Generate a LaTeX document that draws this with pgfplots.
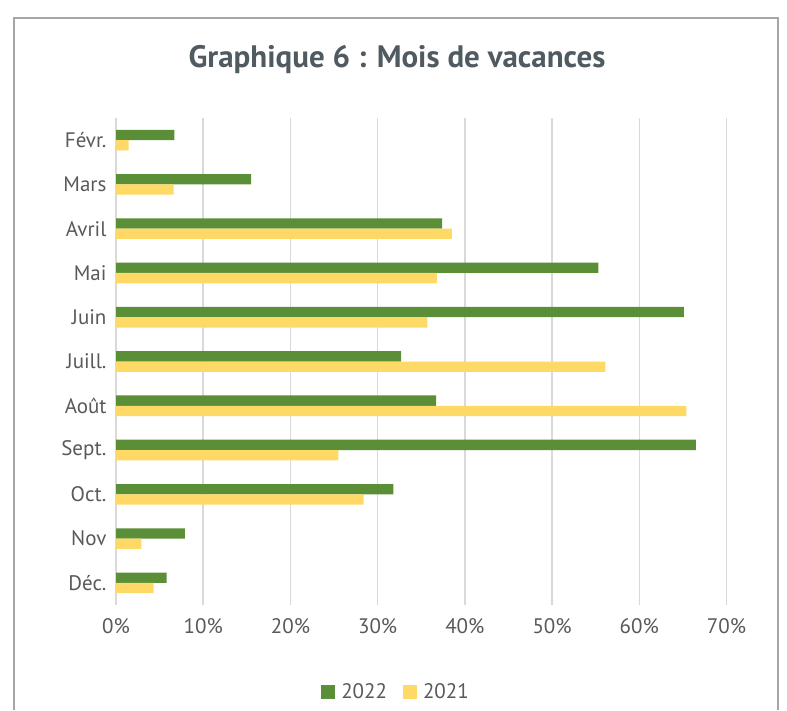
\documentclass[border=0pt]{standalone}
\usepackage{pgfplots}
\usepackage{pgfplotstable}
\pgfplotsset{compat=1.18}
\usepackage{fontspec}
\setmainfont{PT Sans}
\definecolor{vert}{HTML}{5A8E37}
\definecolor{jaune}{HTML}{FFD966}
\definecolor{txt}{HTML}{595959}
\definecolor{titre}{HTML}{505A61}
\definecolor{grille}{HTML}{D9D9D9}
\definecolor{cadre}{HTML}{A6A6A6}
\pgfplotstableread{
idx y22 y21
0 5.8 4.3
1 7.9 2.9
2 31.8 28.4
3 66.5 25.5
4 36.7 65.4
5 32.7 56.1
6 65.1 35.7
7 55.3 36.8
8 37.4 38.5
9 15.5 6.6
10 6.7 1.45
}\data
\begin{document}
\begin{tikzpicture}[x=1pt,y=1pt]
\useasboundingbox (0,0) rectangle (787,710);
\draw[cadre, line width=1.5pt] (14,0) -- (14,692) -- (778,692) -- (778,0);
\node[font=\bfseries\fontsize{31}{36}\selectfont, text=titre] at (397,650) {Graphique 6 : Mois de vacances};
\begin{axis}[
  at={(116pt,105pt)}, anchor=south west,
  scale only axis, width=610.5pt, height=487pt,
  xmin=0, xmax=70, ymin=-0.5, ymax=10.5,
  xbar, bar width=10.3pt,
  axis line style={draw=none},
  major tick length=0pt,
  xmajorgrids, grid style={grille, line width=1.5pt},
  xtick={0,10,...,70},
  xticklabel={\pgfmathprintnumber{\tick}\%},
  ytick={0,...,10},
  yticklabels={Déc.,Nov,Oct.,Sept.,Août,Juill.,Juin,Mai,Avril,Mars,Févr.},
  /pgf/number format/assume math mode=true,
  tick label style={font=\fontsize{21}{24}\selectfont, text=txt},
  xticklabel style={yshift=-10pt},
  yticklabel style={xshift=-6pt},
  legend style={at={(axis description cs:0.4587,-0.1786)}, anchor=center, draw=none, fill=none,
    font=\fontsize{21}{24}\selectfont, text=txt, legend columns=2,
    /tikz/every even column/.append style={column sep=14pt}},
  legend image code/.code={\fill[#1] (0pt,-7pt) rectangle (14pt,7pt); \path (18pt,0pt);},
]
\addplot[fill=vert, draw=none, bar shift=5.15pt] table[x=y22, y=idx]{\data};
\addplot[fill=jaune, draw=none, bar shift=-5.15pt] table[x=y21, y=idx]{\data};
\legend{2022,2021}
\end{axis}
\end{tikzpicture}
\end{document}
